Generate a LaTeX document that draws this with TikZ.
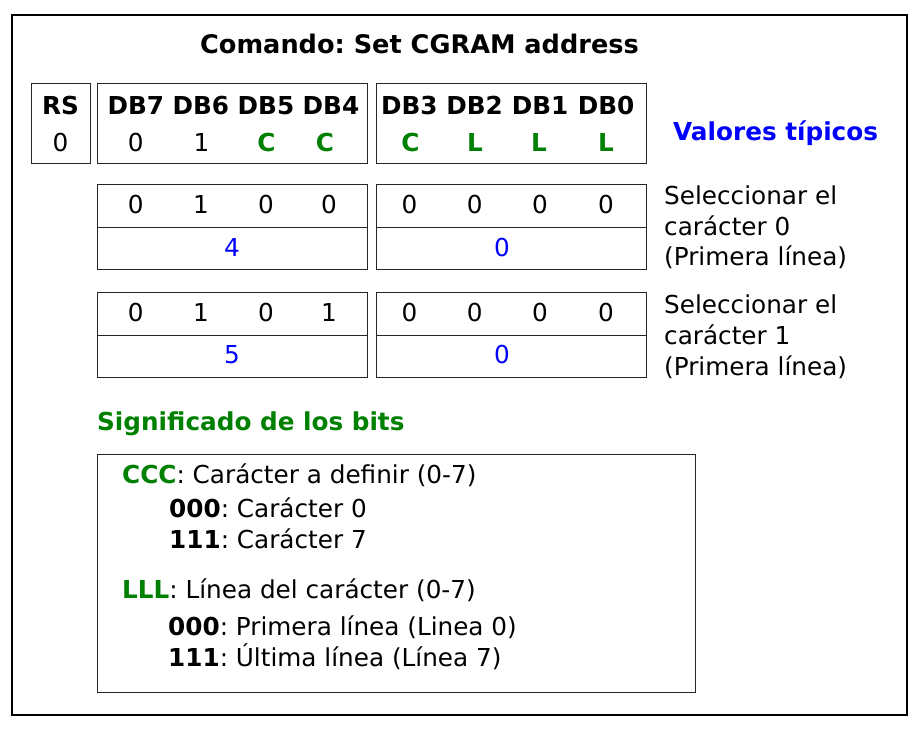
\documentclass[tikz,border=0pt]{standalone}
\usepackage{fontspec}
\setmainfont{DejaVu Sans}
\frenchspacing
\definecolor{bitgreen}{RGB}{0,128,0}
\definecolor{valblue}{RGB}{0,0,255}
\begin{document}
\begin{tikzpicture}[x=1pt,y=-1pt,
  txt/.style={inner sep=0pt, font=\fontsize{24.7}{30}\selectfont, anchor=base},
  bold/.style={txt, font=\fontsize{24.7}{30}\selectfont\bfseries},
  gbit/.style={bold, text=bitgreen},
  hex/.style={txt, text=valblue},
  ltxt/.style={txt, anchor=base west},
  bitbox/.style={draw=black!85, line width=1pt, inner sep=0pt, anchor=north west},
  frame/.style={draw=black, line width=2pt, inner sep=0pt, anchor=north west}]
\useasboundingbox (0,0) rectangle (917,731);
\node[frame, minimum width=895pt, minimum height=700pt] (outer) at (11,14) {};
\node[bold, font=\fontsize{25.6}{30}\selectfont\bfseries] (title) at (419.5,53.3) {Comando: Set CGRAM address};
% header boxes
\node[bitbox, minimum width=59pt, minimum height=80pt] (rs) at (31,82.5) {};
\node[bitbox, minimum width=270pt, minimum height=80pt] (hA) at (97.3,82.5) {};
\node[bitbox, minimum width=270pt, minimum height=80pt] (hB) at (375.8,82.5) {};
\node[bold] (lrs) at (60.5,114.3) {RS};
\node[txt] (vrs) at (60.5,151.7) {0};
\node[bold] (l7) at (135.8,114.3) {DB7};
\node[bold] (l6) at (200.8,114.3) {DB6};
\node[bold] (l5) at (266,114.3) {DB5};
\node[bold] (l4) at (331,114.3) {DB4};
\node[bold] (l3) at (409.4,114.3) {DB3};
\node[bold] (l2) at (474.6,114.3) {DB2};
\node[bold] (l1) at (540,114.3) {DB1};
\node[bold] (l0) at (606,114.3) {DB0};
\node[txt] (v7) at (135.8,151.7) {0};
\node[txt] (v6) at (201.5,151.7) {1};
\node[gbit] (v5) at (266.5,151.7) {C};
\node[gbit] (v4) at (325,151.7) {C};
\node[gbit] (v3) at (410.4,151.7) {C};
\node[gbit] (v2) at (475,151.7) {L};
\node[gbit] (v1) at (539,151.7) {L};
\node[gbit] (v0) at (606,151.7) {L};
\node[bold, text=valblue, anchor=base west] (vt) at (673,140.7) {Valores típicos};
% row 1
\node[bitbox, minimum width=270pt, minimum height=85pt] (r1a) at (97.3,184) {};
\node[bitbox, minimum width=270pt, minimum height=85pt] (r1b) at (375.8,184) {};
\draw[black!85, line width=1pt] (r1a.west) -- (r1a.east);
\draw[black!85, line width=1pt] (r1b.west) -- (r1b.east);
\node[txt] (a7) at (135.8,213.5) {0};
\node[txt] (a6) at (201,213.5) {1};
\node[txt] (a5) at (266,213.5) {0};
\node[txt] (a4) at (329,213.5) {0};
\node[txt] (a3) at (409.4,213.5) {0};
\node[txt] (a2) at (474.6,213.5) {0};
\node[txt] (a1) at (540,213.5) {0};
\node[txt] (a0) at (606,213.5) {0};
\node[hex] (ha) at (232,256.7) {4};
\node[hex] (hb) at (502,256.7) {0};
\node[ltxt] (s1a) at (664,204.3) {Seleccionar el};
\node[ltxt] (s1b) at (664,235) {carácter 0};
\node[ltxt] (s1c) at (664,265.5) {(Primera línea)};
% row 2
\node[bitbox, minimum width=270pt, minimum height=85pt] (r2a) at (97.3,292) {};
\node[bitbox, minimum width=270pt, minimum height=85pt] (r2b) at (375.8,292) {};
\draw[black!85, line width=1pt] (r2a.west) -- (r2a.east);
\draw[black!85, line width=1pt] (r2b.west) -- (r2b.east);
\node[txt] (b7) at (135.8,321) {0};
\node[txt] (b6) at (201,321) {1};
\node[txt] (b5) at (266,321) {0};
\node[txt] (b4) at (329,321) {1};
\node[txt] (b3) at (409.4,321) {0};
\node[txt] (b2) at (474.6,321) {0};
\node[txt] (b1) at (540,321) {0};
\node[txt] (b0) at (606,321) {0};
\node[hex] (hc) at (232,363.5) {5};
\node[hex] (hd) at (502,363.5) {0};
\node[ltxt] (s2a) at (664,313) {Seleccionar el};
\node[ltxt] (s2b) at (664,344) {carácter 1};
\node[ltxt] (s2c) at (664,375) {(Primera línea)};
% meaning
\node[bold, text=bitgreen, anchor=base west] (sig) at (97,430.5) {Significado de los bits};
\node[bitbox, minimum width=598.5pt, minimum height=238pt] (mbox) at (96.5,454) {};
\node[ltxt] (m1) at (122,483.3) {\textbf{\color{bitgreen}CCC}: Carácter a definir (0-7)};
\node[ltxt] (m2) at (169,517.3) {\textbf{000}: Carácter 0};
\node[ltxt] (m3) at (169,548.3) {\textbf{111}: Carácter 7};
\node[ltxt] (m4) at (122,598) {\textbf{\color{bitgreen}LLL}: Línea del carácter (0-7)};
\node[ltxt] (m5) at (168,635) {\textbf{000}: Primera línea (Linea 0)};
\node[ltxt] (m6) at (168,666.7) {\textbf{111}: Última línea (Línea 7)};
\end{tikzpicture}
\end{document}
